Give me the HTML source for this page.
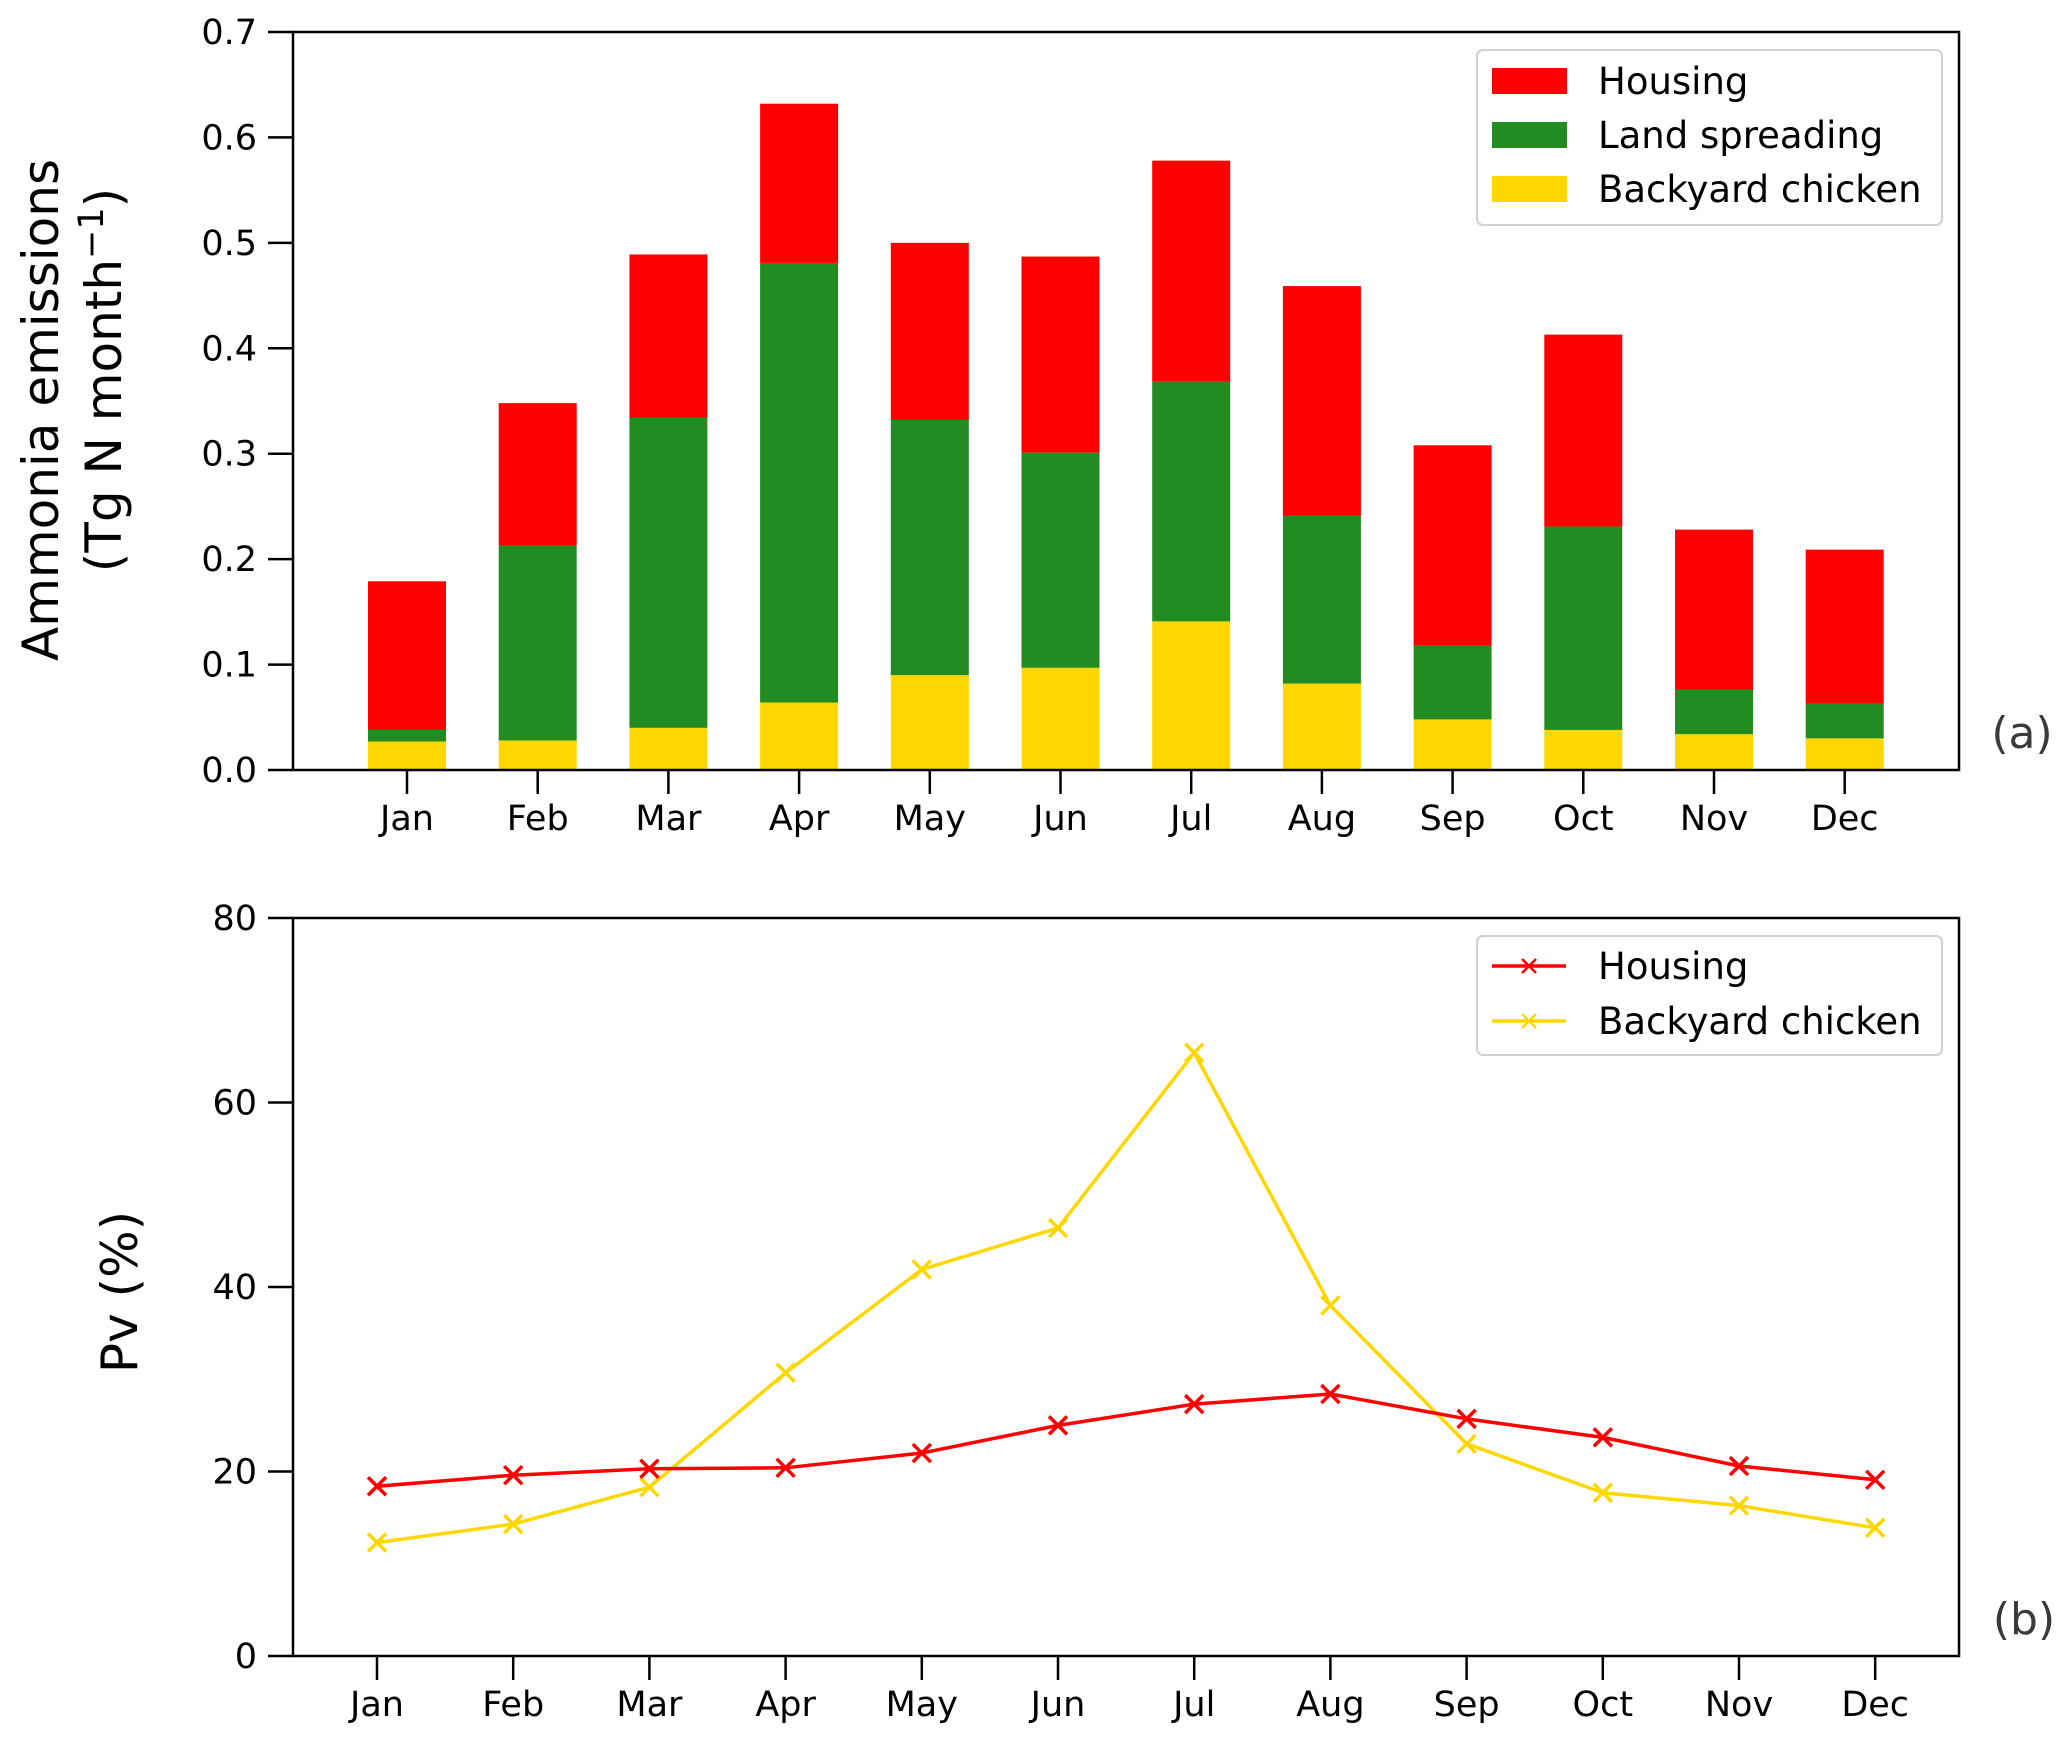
<!DOCTYPE html>
<html><head><meta charset="utf-8"><style>
html,body{margin:0;padding:0;background:#fff;}
svg{display:block;font-family:"DejaVu Sans","Liberation Sans",sans-serif;}
</style></head><body>
<svg id="chart" width="2067" height="1738" viewBox="0 0 2067 1738" xmlns="http://www.w3.org/2000/svg"></svg>
<script>
const months = ["Jan","Feb","Mar","Apr","May","Jun","Jul","Aug","Sep","Oct","Nov","Dec"];
const chickenEmis = [0.027,0.028,0.040,0.064,0.090,0.097,0.141,0.082,0.048,0.038,0.034,0.030];
const landEmis = [0.011,0.185,0.294,0.417,0.242,0.204,0.228,0.159,0.070,0.193,0.042,0.033];
const housingEmis = [0.141,0.135,0.155,0.151,0.168,0.186,0.209,0.218,0.190,0.182,0.152,0.146];
const yTicksTop = [0,0.1,0.2,0.3,0.4,0.5,0.6,0.7];
const yTickLabelsTop = ["0.0","0.1","0.2","0.3","0.4","0.5","0.6","0.7"];
const pvHousing = [18.4,19.6,20.3,20.4,22.0,25.0,27.3,28.4,25.7,23.7,20.6,19.1];
const pvChicken = [12.3,14.3,18.3,30.7,41.9,46.4,65.4,38.0,23.0,17.7,16.3,13.9];
const yTicksBot = [0,20,40,60,80];

const NS="http://www.w3.org/2000/svg";
const svg=document.getElementById('chart');
function mk(tag,attrs,parent,text){const e=document.createElementNS(NS,tag);for(const k in attrs)e.setAttribute(k,attrs[k]);if(text!==undefined)e.textContent=text;(parent||svg).appendChild(e);return e;}
const TF=35;

// top axes
const T={l:293,r:1959,t:32,b:770,x0:407,dx:130.7};
const yT=v=>T.b-(v/0.7)*(T.b-T.t);
const xT=i=>T.x0+i*T.dx;
const gTop=mk('g',{});


const bw=78;
months.forEach((m,i)=>{
  const segs=[[chickenEmis[i],'#FFD700','chicken'],[landEmis[i],'#228B22','land'],[housingEmis[i],'#FF0000','housing']];
  let base=0;
  segs.forEach(s=>{
    const r=mk('rect',{x:xT(i)-bw/2,y:yT(base+s[0]),width:bw,height:yT(base)-yT(base+s[0]),fill:s[1]},gTop);
    
    
    base+=s[0];
  });
  mk('line',{x1:xT(i),x2:xT(i),y1:T.b,y2:T.b+24,stroke:'#000','stroke-width':2.5},gTop);
  const t=mk('text',{x:xT(i),y:T.b+60,'text-anchor':'middle','font-size':TF},gTop,m);
  
  
});
mk('rect',{x:T.l,y:T.t,width:T.r-T.l,height:T.b-T.t,fill:'none',stroke:'#000','stroke-width':2.5},gTop);
yTicksTop.forEach((v,i)=>{
  mk('line',{x1:T.l-25,x2:T.l,y1:yT(v),y2:yT(v),stroke:'#000','stroke-width':2.5},gTop);
  const t=mk('text',{x:T.l-36,y:yT(v)+12,'text-anchor':'end','font-size':TF},gTop,yTickLabelsTop[i]);
  
  
});
const yl=mk('text',{transform:'translate(58,410) rotate(-90)','text-anchor':'middle','font-size':50},svg,'Ammonia emissions');


const yl2=mk('text',{transform:'translate(121,380) rotate(-90)','text-anchor':'middle','font-size':50},svg);


yl2.innerHTML='(Tg N month<tspan dy="-18" font-size="35">−1</tspan><tspan dy="18">)</tspan>';

// top legend
const lg=mk('g',{});


mk('rect',{x:1477,y:50,width:465,height:175,rx:6,fill:'#fff',stroke:'#d0d0d0','stroke-width':2},lg);
[['Housing','#FF0000',68],['Land spreading','#228B22',122],['Backyard chicken','#FFD700',176]].forEach(e=>{
  const it=mk('g',{},lg);
  
  
  mk('rect',{x:1492,y:e[2],width:75,height:26,fill:e[1]},it);
  mk('text',{x:1598,y:e[2]+26,'font-size':37},it,e[0]);
});
const la=mk('text',{x:2022,y:748,'text-anchor':'middle','font-size':44,fill:'#3a3a3a'},svg,'(a)');



// bottom axes
const B={l:293,r:1959,t:918,b:1656,x0:377,dx:136.2};
const yB=v=>B.b-(v/80)*(B.b-B.t);
const xB=i=>B.x0+i*B.dx;
const gB=mk('g',{});


mk('rect',{x:B.l,y:B.t,width:B.r-B.l,height:B.b-B.t,fill:'none',stroke:'#000','stroke-width':2.5},gB);
yTicksBot.forEach(v=>{
  mk('line',{x1:B.l-25,x2:B.l,y1:yB(v),y2:yB(v),stroke:'#000','stroke-width':2.5},gB);
  const t=mk('text',{x:B.l-36,y:yB(v)+12,'text-anchor':'end','font-size':TF},gB,String(v));
  
  
});
months.forEach((m,i)=>{
  mk('line',{x1:xB(i),x2:xB(i),y1:B.b,y2:B.b+24,stroke:'#000','stroke-width':2.5},gB);
  const t=mk('text',{x:xB(i),y:B.b+60,'text-anchor':'middle','font-size':TF},gB,m);
  
  
});
function series(vals,color,name){
  const g=mk('g',{},gB);
  
  
  mk('polyline',{points:vals.map((v,i)=>xB(i)+','+yB(v)).join(' '),fill:'none',stroke:color,'stroke-width':3.5},g);
  vals.forEach((v,i)=>{
    const x=xB(i),y=yB(v),s=9;
    mk('path',{d:`M${x-s},${y-s}L${x+s},${y+s}M${x-s},${y+s}L${x+s},${y-s}`,stroke:color,'stroke-width':3.5},g);
  });
}
series(pvChicken,'#FFD700','line-backyard-chicken');
series(pvHousing,'#FF0000','line-housing');
const yb=mk('text',{transform:'translate(137,1292) rotate(-90)','text-anchor':'middle','font-size':50},svg,'Pv (%)');



const lg2=mk('g',{});


mk('rect',{x:1477,y:936,width:465,height:119,rx:6,fill:'#fff',stroke:'#d0d0d0','stroke-width':2},lg2);
[['Housing','#FF0000',966],['Backyard chicken','#FFD700',1021]].forEach(e=>{
  const it=mk('g',{},lg2);
  
  
  mk('line',{x1:1492,x2:1566,y1:e[2],y2:e[2],stroke:e[1],'stroke-width':3.5},it);
  mk('path',{d:`M1522,${e[2]-7}L1536,${e[2]+7}M1522,${e[2]+7}L1536,${e[2]-7}`,stroke:e[1],'stroke-width':2.5},it);
  mk('text',{x:1598,y:e[2]+13,'font-size':37},it,e[0]);
});
const lb=mk('text',{x:2024,y:1634,'text-anchor':'middle','font-size':44,fill:'#3a3a3a'},svg,'(b)');


</script>
</body></html>
